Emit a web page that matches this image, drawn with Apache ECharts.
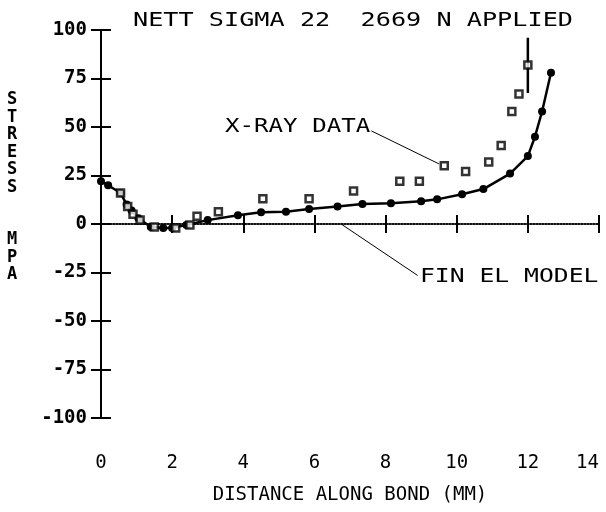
<!DOCTYPE html>
<html>
<head>
<meta charset="utf-8">
<style>
  html, body { margin: 0; padding: 0; background: #fff; }
  #chart { width: 606px; height: 512px; }
</style>
<script src="https://cdn.jsdelivr.net/npm/echarts@6/dist/echarts.min.js"></script>
</head>
<body>
<div id="chart"></div>
<script>
// Finite element model (solid line with dots)
const modelX = [0, 0.2, 0.55, 0.72, 0.86, 1.05, 1.4, 1.75, 2.0, 2.4, 3.0, 3.85, 4.5, 5.2, 5.85, 6.65, 7.35, 8.15, 9.0, 9.45, 10.15, 10.75, 11.5, 12.0, 12.2, 12.4, 12.65]
const modelY = [22, 20, 16, 10, 7, 3, -1.5, -2, -2, -0.5, 2, 4.5, 6, 6.3, 7.7, 9, 10.3, 10.7, 11.7, 12.7, 15.3, 18, 26, 35, 45, 58, 78]

// X-ray measurements (open squares)
const xrayX = [0.55, 0.75, 0.9, 1.1, 1.5, 2.1, 2.5, 2.7, 3.3, 4.55, 5.85, 7.1, 8.4, 8.95, 9.65, 10.25, 10.9, 11.25, 11.55, 11.75, 12.0]
const xrayY = [16, 9, 5, 2, -1.5, -2, -0.5, 4, 6.3, 13, 13, 17, 22, 22, 30, 27, 32, 40.5, 58, 67, 82]

// error bar on the last x-ray point
const errX = [12.0, 12.0]
const errY = [67.5, 96]

const xTicks = [0, 2, 4, 6, 8, 10, 12, 14]
const yTicks = [-100, -75, -50, -25, 0, 25, 50, 75, 100]

const FONT = '"DejaVu Sans Mono", monospace'

const zip = (xs, ys) => xs.map((x, i) => [x, ys[i]])

const chart = echarts.init(document.getElementById('chart'))

const baseX = {
  type: 'value',
  min: xTicks[0],
  max: xTicks[xTicks.length - 1],
  interval: 2,
  position: 'bottom',
  splitLine: { show: false },
}
const baseY = {
  type: 'value',
  min: yTicks[0],
  max: yTicks[yTicks.length - 1],
  interval: 25,
  position: 'left',
  splitLine: { show: false },
}

const option = {
  animation: false,
  backgroundColor: '#fff',
  grid: { left: 101, right: 7, top: 30, bottom: 94, outerBoundsMode: 'none', containLabel: false },
  xAxis: [
    {
      ...baseX,
      axisLine: { show: false, onZero: false },
      axisTick: { show: false },
      axisLabel: { margin: 36, color: '#000', fontSize: 19, fontFamily: FONT, alignMaxLabel: 'right' },
      name: 'DISTANCE ALONG BOND (MM)',
      nameLocation: 'middle',
      nameGap: 68,
      nameTextStyle: { color: '#000', fontSize: 19, fontFamily: FONT },
    },
    {
      ...baseX,
      axisLine: { onZero: true, lineStyle: { color: '#000', width: 1.5, type: 'dotted' } },
      axisTick: { inside: false, length: 9, lineStyle: { color: '#000', width: 2 } },
      axisLabel: { show: false },
    },
    {
      ...baseX,
      axisLine: { onZero: true, lineStyle: { color: '#000', width: 1.5, type: 'dotted' } },
      axisTick: { inside: true, length: 9, lineStyle: { color: '#000', width: 2 } },
      axisLabel: { show: false },
    },
  ],
  yAxis: [
    {
      ...baseY,
      axisLine: { onZero: false, lineStyle: { color: '#000', width: 2 } },
      axisTick: { inside: false, length: 10, lineStyle: { color: '#000', width: 2 } },
      axisLabel: { margin: 14, color: '#000', fontSize: 19, fontWeight: 'bold', fontFamily: FONT },
    },
    {
      ...baseY,
      axisLine: { onZero: false, lineStyle: { color: '#000', width: 2 } },
      axisTick: { inside: true, length: 10, lineStyle: { color: '#000', width: 2 } },
      axisLabel: { show: false },
    },
  ],
  graphic: [
    {
      type: 'text', x: 133, y: 11, scaleX: 1.26,
      style: { text: 'NETT SIGMA 22  2669 N APPLIED', fill: '#000', fontSize: 20, fontFamily: FONT },
    },
    {
      type: 'text', x: 225, y: 118, scaleX: 1.27,
      style: { text: 'X-RAY DATA', fill: '#000', fontSize: 19, fontFamily: FONT },
    },
    {
      type: 'text', x: 420, y: 268, scaleX: 1.3,
      style: { text: 'FIN EL MODEL', fill: '#000', fontSize: 19, fontFamily: FONT },
    },
    {
      type: 'text', x: 7, y: 91,
      style: {
        text: 'S\nT\nR\nE\nS\nS\n\n\nM\nP\nA',
        fill: '#000', fontSize: 17, fontWeight: 'bold', lineHeight: 17.5, fontFamily: FONT,
      },
    },
  ],
  series: [
    {
      name: 'FIN EL MODEL',
      type: 'line',
      data: zip(modelX, modelY),
      symbol: 'circle',
      symbolSize: 8,
      showSymbol: true,
      lineStyle: { color: '#000', width: 2.5 },
      itemStyle: { color: '#000' },
      z: 3,
      markLine: {
        silent: true,
        symbol: 'none',
        label: { show: false },
        lineStyle: { color: '#000', width: 1, type: 'solid' },
        data: [
          [{ coord: [7.6, 48] }, { coord: [9.5, 31] }],
          [{ coord: [6.75, 0] }, { coord: [8.9, -26.5] }],
        ],
      },
    },
    {
      name: 'X-RAY DATA',
      type: 'scatter',
      data: zip(xrayX, xrayY),
      symbol: 'rect',
      symbolSize: 7,
      itemStyle: { color: '#fff', borderColor: '#000', borderWidth: 2.5 },
      z: 4,
    },
    {
      name: 'error',
      type: 'line',
      data: zip(errX, errY),
      symbol: 'none',
      lineStyle: { color: '#000', width: 2.5 },
    },
  ],
}

chart.setOption(option)
</script>
</body>
</html>
